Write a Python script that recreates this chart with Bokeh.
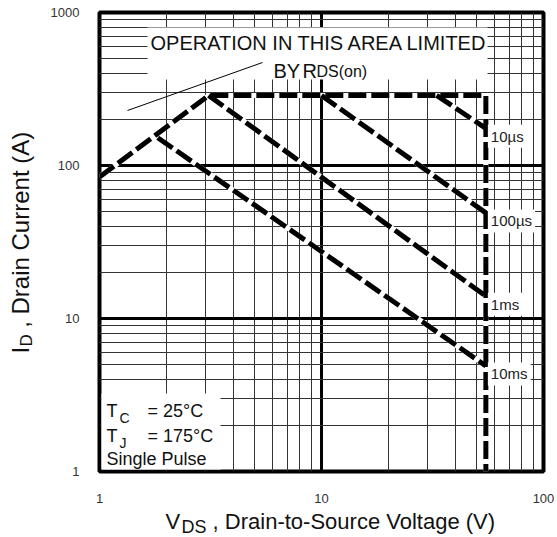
import math
from bokeh.plotting import figure
from bokeh.layouts import row, column
from bokeh.models import Label, BoxAnnotation, Arrow, FixedTicker, ColumnDataSource
from bokeh.core.properties import value
from bokeh.embed import file_html
from bokeh.resources import INLINE

# ---------------- data ----------------
x_ticks = [1, 10, 100]
y_ticks = [1, 10, 100, 1000]
x_minor = [2, 3, 4, 5, 6, 7, 8, 9, 20, 30, 40, 50, 60, 70, 80, 90]
y_minor = [2, 3, 4, 5, 6, 7, 8, 9, 20, 30, 40, 50, 60, 70, 80, 90,
           200, 300, 400, 500, 600, 700, 800, 900]

# RDS(on) limit -> current limit -> BVDSS limit
limit_v = [1.0, 3.1, 55.0, 55.0]
limit_i = [84.0, 287.0, 287.0, 1.0]
# pulse-width boundaries
us10_v = [33.0, 55.0]
us10_i = [287.0, 175.0]
us100_v = [10.0, 55.0]
us100_i = [287.0, 49.0]
ms1_v = [3.1, 55.0]
ms1_i = [287.0, 14.0]
ms10_v = [1.83, 55.0]
ms10_i = [152.0, 4.9]
pulse_labels = ["10\u00b5s", "100\u00b5s", "1ms", "10ms"]
pulse_end_v = [us10_v[-1], us100_v[-1], ms1_v[-1], ms10_v[-1]]
pulse_end_i = [us10_i[-1], us100_i[-1], ms1_i[-1], ms10_i[-1]]

FONT = "Liberation Sans"
TXT = "#111111"
NBSP = "\u00a0"
MID = 0.35   # Label anchors sit ~0.35 em above the glyph baseline

# page layout: left strip for y title, main chart, bottom strip for x title
LW = 44            # width of the left strip
MW, MH = 557 - LW, 508
XH = 537 - MH      # height of the bottom strip
FL, FR, FT, FB = 99, 543, 12, 471   # page position of the chart frame

p = figure(width=MW, height=MH, x_axis_type="log", y_axis_type="log",
           x_range=(1, 100), y_range=(1, 1000),
           output_backend="svg", toolbar_location=None,
           min_border_left=FL - LW, min_border_right=557 - FR,
           min_border_top=FT, min_border_bottom=MH - FB)
p.background_fill_color = "white"
p.border_fill_color = "white"
p.outline_line_color = "black"
p.outline_line_width = 4

xt = FixedTicker(ticks=x_ticks, minor_ticks=x_minor)
yt = FixedTicker(ticks=y_ticks, minor_ticks=y_minor)
p.xaxis.ticker = xt
p.yaxis.ticker = yt
p.xgrid.ticker = xt
p.ygrid.ticker = yt
for g in (p.xgrid, p.ygrid):
    g.grid_line_color = "black"
    g.grid_line_width = 3
    g.minor_grid_line_color = "#333333"
    g.minor_grid_line_width = 1

for ax in (p.xaxis, p.yaxis):
    ax.axis_line_color = None
    ax.major_tick_line_color = None
    ax.minor_tick_line_color = None
    ax.major_label_text_font = FONT
    ax.major_label_text_font_size = "13px"
    ax.major_label_text_color = "#333333"
p.xaxis.major_label_overrides = {t: str(t) for t in x_ticks}
p.yaxis.major_label_overrides = {t: str(t) for t in y_ticks}
p.xaxis.major_label_standoff = 16
p.yaxis.major_label_standoff = 14

# ---------------- curves ----------------
series = [(limit_v, limit_i), (us10_v, us10_i), (us100_v, us100_i),
          (ms1_v, ms1_i), (ms10_v, ms10_i)]
for xs, ys in series:
    p.line(xs, ys, line_color="white", line_width=5)
for xs, ys in series:
    p.line(xs, ys, line_color="black", line_width=5, line_dash="18 5")

src = ColumnDataSource(dict(x=pulse_end_v, y=pulse_end_i, t=pulse_labels))
p.text(x="x", y="y", text="t", source=src, x_offset=2, y_offset=8,
       text_font=value(FONT), text_font_size="15px", text_color="#222222",
       text_baseline="middle", text_align="left",
       background_fill_color="white", padding=3)


# ---------------- annotations (screen units, frame-relative) ----------------
def box(x0, y0, x1, y1):
    p.add_layout(BoxAnnotation(left=x0 - FL, right=x1 - FL, top=FB - y0, bottom=FB - y1,
                               left_units="screen", right_units="screen",
                               top_units="screen", bottom_units="screen",
                               fill_color="white", fill_alpha=1.0,
                               line_color=None))


def lab(fig, ox, oy, px, py, text, fs, rotated=False, color=TXT):
    """(px, py): page position of the text start on its baseline;
    (ox, oy): page position of the figure frame's left/bottom."""
    if rotated:
        ax_, ay_ = px - MID * fs, py
    else:
        ax_, ay_ = px, py - MID * fs
    fig.add_layout(Label(x=ax_ - ox, y=oy - ay_, x_units="screen", y_units="screen",
                         text=text, text_font=FONT, text_font_size=f"{fs}px",
                         text_color=color, text_baseline="alphabetic",
                         text_align="left", angle=(math.pi / 2 if rotated else 0.0)))


def mlab(px, py, text, fs):
    lab(p, FL, FB, px, py, text, fs)


box(147, 27, 487, 79)
box(101, 393, 220, 469)

p.add_layout(Arrow(start=None, end=None, x_start=127 - FL, y_start=FB - 110,
                   x_end=262 - FL, y_end=FB - 62, start_units="screen",
                   end_units="screen", line_color="black", line_width=1))

mlab(150, 49, "OPERATION IN THIS AREA LIMITED", 20)
mlab(273, 77, "BY", 20)
mlab(302, 77, "R", 20)
mlab(316, 77, "DS(on)", 16)

mlab(106, 417, "T", 18)
mlab(119, 422, "C", 14)
mlab(147, 417, "= 25\u00b0C", 18)
mlab(106, 442, "T", 18)
mlab(119, 447, "J", 14)
mlab(147, 442, "= 175\u00b0C", 18)
mlab(106, 465, "Single Pulse", 18)


def strip(h, fw, left=0, right=0):
    f = figure(width=fw + left + right, height=h, frame_width=fw, frame_height=h,
               title=None, x_range=(0, 1), y_range=(0, 1),
               x_axis_location=None, y_axis_location=None,
               output_backend="svg", toolbar_location=None,
               min_border=0, min_border_left=left, min_border_right=right,
               min_border_top=0, min_border_bottom=0)
    f.outline_line_color = None
    f.background_fill_color = "white"
    f.border_fill_color = "white"
    f.grid.visible = False
    return f


# x-axis title strip (page y 508..537); same side borders as the chart so
# the column's frame alignment keeps its frame at page x FL..FR
xf = strip(XH, FR - FL, left=FL - LW, right=557 - FR)
lab(xf, FL, 537, 165, 529, "V", 22)
lab(xf, FL, 537, 181, 533, "DS", 18)
lab(xf, FL, 537, 206, 529, NBSP + ", Drain-to-Source Voltage (V)", 22)

# y-axis title strip (page x 0..44, y 0..537)
yf = strip(537, LW)
lab(yf, 0, 537, 28, 353, "I", 24, rotated=True)
lab(yf, 0, 537, 32, 346, "D", 17, rotated=True)
lab(yf, 0, 537, 28, 334, NBSP + ", Drain Current (A)", 24, rotated=True)

layout = row(yf, column(p, xf, spacing=0), spacing=0)
open("out.html", "w").write(file_html(layout, INLINE))
